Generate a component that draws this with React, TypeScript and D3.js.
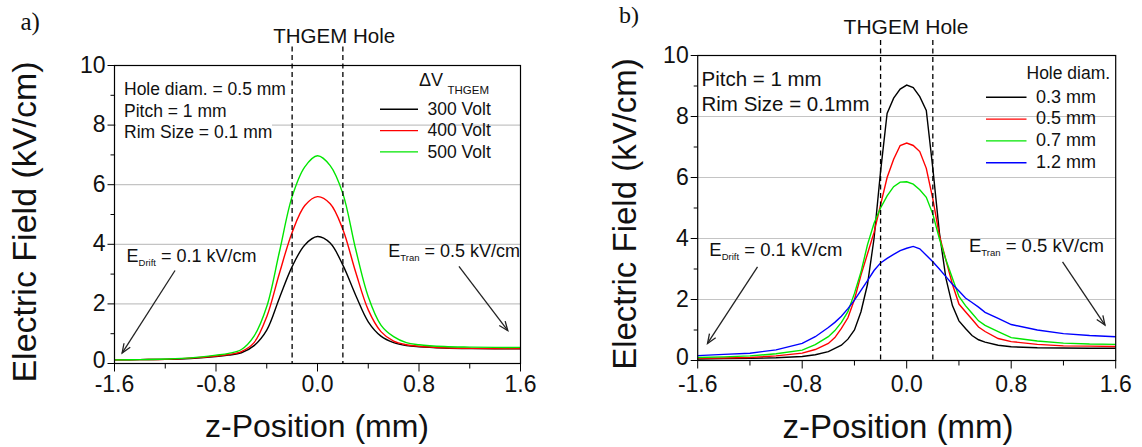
import React from 'react';
import * as d3 from 'd3';

// ---------- data ----------
const zLeft = [-1.6, -1.4, -1.2, -1.0, -0.8, -0.7, -0.6, -0.5, -0.4, -0.3, -0.2, -0.1, 0, 0.1, 0.2, 0.3, 0.4, 0.5, 0.6, 0.7, 0.8, 1.0, 1.2, 1.4, 1.6];
const v300 = [0.12, 0.13, 0.14, 0.17, 0.23, 0.28, 0.36, 0.6, 1.12, 2.2, 3.25, 3.98, 4.26, 4.04, 3.3, 2.3, 1.4, 0.92, 0.7, 0.6, 0.56, 0.52, 0.5, 0.49, 0.49];
const v400 = [0.12, 0.13, 0.14, 0.18, 0.25, 0.3, 0.4, 0.7, 1.57, 3.03, 4.4, 5.3, 5.6, 5.36, 4.5, 3.08, 1.8, 1.07, 0.75, 0.63, 0.58, 0.53, 0.51, 0.5, 0.5];
const v500 = [0.12, 0.13, 0.15, 0.19, 0.28, 0.34, 0.47, 0.92, 1.91, 3.75, 5.6, 6.6, 6.97, 6.64, 5.7, 3.85, 2.24, 1.29, 0.9, 0.7, 0.63, 0.57, 0.55, 0.54, 0.54];

const zRight = [-1.6, -1.4, -1.2, -1.0, -0.8, -0.7, -0.6, -0.55, -0.5, -0.45, -0.4, -0.35, -0.3, -0.25, -0.2, -0.15, -0.1, -0.05, 0, 0.05, 0.1, 0.15, 0.2, 0.25, 0.3, 0.35, 0.4, 0.45, 0.5, 0.55, 0.6, 0.7, 0.8, 1.0, 1.2, 1.4, 1.6];
const d03 = [0.05, 0.06, 0.07, 0.09, 0.13, 0.19, 0.29, 0.4, 0.5, 0.7, 1.0, 1.6, 2.5, 4.0, 6.2, 8.1, 8.6, 8.9, 9.03, 8.95, 8.65, 8.2, 6.3, 4.2, 2.7, 1.8, 1.3, 1.05, 0.82, 0.68, 0.6, 0.5, 0.45, 0.42, 0.41, 0.4, 0.4];
const d05 = [0.07, 0.08, 0.1, 0.15, 0.24, 0.36, 0.56, 0.75, 1.05, 1.4, 2.0, 2.8, 3.5, 4.2, 5.1, 6.0, 6.6, 7.05, 7.13, 7.05, 6.85, 6.3, 5.3, 4.1, 3.3, 2.5, 1.85, 1.6, 1.35, 1.1, 0.95, 0.72, 0.62, 0.53, 0.48, 0.47, 0.46];
const d07 = [0.1, 0.12, 0.15, 0.22, 0.34, 0.52, 0.78, 0.98, 1.25, 1.6, 2.2, 2.9, 3.8, 4.5, 5.0, 5.4, 5.7, 5.85, 5.86, 5.78, 5.6, 5.35, 4.8, 4.0, 3.3, 2.7, 2.1, 1.8, 1.55, 1.3, 1.15, 0.95, 0.75, 0.64, 0.57, 0.54, 0.53];
const d12 = [0.16, 0.2, 0.24, 0.35, 0.56, 0.78, 1.08, 1.25, 1.45, 1.7, 1.98, 2.3, 2.62, 2.95, 3.2, 3.35, 3.48, 3.6, 3.68, 3.74, 3.66, 3.45, 3.24, 3.0, 2.75, 2.5, 2.28, 2.05, 1.9, 1.75, 1.58, 1.38, 1.18, 1.0, 0.88, 0.82, 0.78];

const leftLabels = ['300 Volt', '400 Volt', '500 Volt'];
const leftColors = ['#000000', '#ff0000', '#00e600'];
const rightLabels = ['0.3 mm', '0.5 mm', '0.7 mm', '1.2 mm'];
const rightColors = ['#000000', '#ff0000', '#00e600', '#0000ff'];

const xTicks = [-1.6, -0.8, 0, 0.8, 1.6];
const xMinor = [-1.2, -0.4, 0.4, 1.2];
const yTicks = [0, 2, 4, 6, 8, 10];
const yMinor = [1, 3, 5, 7, 9];
const gridVals = [2, 4, 6, 8];
const holeEdges = [-0.2, 0.2];

const FONT = 'Liberation Sans, Arial, Helvetica, sans-serif';

type Scale = d3.ScaleLinear<number, number>;

function Arrow({ x, y, a }: { x: Scale; y: Scale; a: number[] }) {
  const x1 = x(a[0]), y1 = y(a[1]), x2 = x(a[2]), y2 = y(a[3]);
  const ang = Math.atan2(y2 - y1, x2 - x1);
  const L = 10, w = 0.38;
  const p1 = [x2 - L * Math.cos(ang - w), y2 - L * Math.sin(ang - w)];
  const p2 = [x2 - L * Math.cos(ang + w), y2 - L * Math.sin(ang + w)];
  return (
    <g stroke="#222" strokeWidth={1.3} fill="none">
      <line x1={x1} y1={y1} x2={x2} y2={y2} />
      <polyline points={`${p1[0]},${p1[1]} ${x2},${y2} ${p2[0]},${p2[1]}`} />
    </g>
  );
}

function Axes({ x, y, dashTop, tickSize }: { x: Scale; y: Scale; dashTop: number; tickSize: number }) {
  const [l, r] = x.range();
  const [b, t] = y.range();
  const fmt = (v: number) => v.toFixed(1);
  return (
    <g>
      <g stroke="#000" strokeWidth={1}>
        {yTicks.map((v) => <line key={'ym' + v} x1={l - 7} x2={l} y1={y(v)} y2={y(v)} />)}
        {yMinor.map((v) => <line key={'yn' + v} x1={l - 4} x2={l} y1={y(v)} y2={y(v)} />)}
        {xTicks.map((v) => <line key={'xm' + v} x1={x(v)} x2={x(v)} y1={b} y2={b + 8} />)}
        {xMinor.map((v) => <line key={'xn' + v} x1={x(v)} x2={x(v)} y1={b} y2={b + 5} />)}
      </g>
      <g fontFamily={FONT} fontSize={tickSize} fill="#111">
        {yTicks.map((v) => (
          <text key={'yl' + v} x={l - 9} y={y(v) + (v === 0 ? 4 : 7)} textAnchor="end">{v}</text>
        ))}
        {xTicks.map((v) => (
          <text key={'xl' + v} x={x(v)} y={392} textAnchor="middle">{fmt(v)}</text>
        ))}
      </g>
      {holeEdges.map((v) => (
        <line key={'h' + v} x1={x(v)} x2={x(v)} y1={dashTop} y2={b} stroke="#000" strokeWidth={1.3} strokeDasharray="5,3.5" />
      ))}
      <rect x={l} y={t} width={r - l} height={b - t} fill="none" stroke="#000" strokeWidth={1.2} />
    </g>
  );
}

export default function App() {
  const xL = d3.scaleLinear().domain([-1.6, 1.6]).range([114.5, 520.5]);
  const yL = d3.scaleLinear().domain([0, 10]).range([363.5, 65.5]);
  const xR = d3.scaleLinear().domain([-1.6, 1.6]).range([697.7, 1115.7]);
  const yR = d3.scaleLinear().domain([0, 10]).range([360.5, 55.5]);

  const lineL = d3.line<number>().x((_, i) => xL(zLeft[i])).y((d) => yL(d)).curve(d3.curveCatmullRom.alpha(0.5));
  const lineR = d3.line<number>().x((_, i) => xR(zRight[i])).y((d) => yR(d)).curve(d3.curveLinear);

  const leftSeries = [v300, v400, v500];
  const rightSeries = [d03, d05, d07, d12];

  return (
    <svg width={1142} height={447} style={{ position: 'absolute', left: 0, top: 0, background: '#fff' }}>
      <rect x={0} y={0} width={1142} height={447} fill="#fff" />

      {/* ================= panel a ================= */}
      <g>
        {gridVals.map((v) => (
          <line key={v} x1={xL(-1.6)} x2={xL(1.6)} y1={yL(v)} y2={yL(v)} stroke="#c4c4c4" strokeWidth={1.2} />
        ))}
        <rect x={116} y={72} width={156} height={72} fill="#fff" />
        <g fontFamily={FONT} fontSize={17.5} fill="#111">
          <text x={124} y={95}>Hole diam. = 0.5 mm</text>
          <text x={124} y={116.5}>Pitch = 1 mm</text>
          <text x={124} y={138}>Rim Size = 0.1 mm</text>
        </g>
        <g fontFamily={FONT} fill="#111">
          <text x={419} y={86} fontSize={18}>ΔV</text>
          <text x={447.5} y={93.5} fontSize={11.5}>THGEM</text>
          {leftLabels.map((s, i) => (
            <g key={s}>
              <line x1={380} x2={418} y1={109.3 + i * 21.3} y2={109.3 + i * 21.3} stroke={leftColors[i]} strokeWidth={1.4} />
              <text x={427.5} y={114.5 + i * 21.5} fontSize={17.5}>{s}</text>
            </g>
          ))}
        </g>
        {leftSeries.map((s, i) => (
          <path key={i} d={lineL(s) || ''} fill="none" stroke={leftColors[i]} strokeWidth={1.4} />
        ))}
        <Axes x={xL} y={yL} dashTop={46.5} tickSize={23} />
        <g fontFamily={FONT} fill="#111">
          <text x={126.5} y={261.5} fontSize={18}>E<tspan fontSize={9.5} dy={4}>Drift</tspan><tspan dy={-4}> = 0.1 kV/cm</tspan></text>
          <text x={388.3} y={256.5} fontSize={18}>E<tspan fontSize={9.5} dy={4}>Tran</tspan><tspan dy={-4}> = 0.5 kV/cm</tspan></text>
        </g>
        <Arrow x={xL} y={yL} a={[-1.123, 3.12, -1.54, 0.35]} />
        <Arrow x={xL} y={yL} a={[1.115, 3.26, 1.5, 1.1]} />
        <g fontFamily={FONT} fill="#111">
          <text x={273.3} y={42.5} fontSize={20.5}>THGEM Hole</text>
          <text x={317} y={437} fontSize={32} textAnchor="middle">z-Position (mm)</text>
          <text transform="translate(36,222) rotate(-90)" fontSize={34} textAnchor="middle">Electric Field (kV/cm)</text>
        </g>
        <text x={20.5} y={30} fontFamily="Liberation Serif, Times New Roman, serif" fontSize={25} fill="#111">a)</text>
      </g>

      {/* ================= panel b ================= */}
      <g>
        {gridVals.map((v) => (
          <line key={v} x1={xR(-1.6)} x2={xR(1.6)} y1={yR(v)} y2={yR(v)} stroke="#c4c4c4" strokeWidth={1.2} />
        ))}
        <g fontFamily={FONT} fontSize={20.5} fill="#111">
          <text x={701.5} y={86}>Pitch = 1 mm</text>
          <text x={701.5} y={111}>Rim Size = 0.1mm</text>
        </g>
        <g fontFamily={FONT} fill="#111">
          <text x={1026.5} y={78.5} fontSize={17.5}>Hole diam.</text>
          {rightLabels.map((s, i) => (
            <g key={s}>
              <line x1={986} x2={1026.5} y1={97.3 + i * 21.8} y2={97.3 + i * 21.8} stroke={rightColors[i]} strokeWidth={1.4} />
              <text x={1036} y={102.7 + i * 21.7} fontSize={18}>{s}</text>
            </g>
          ))}
        </g>
        {rightSeries.map((s, i) => (
          <path key={i} d={lineR(s) || ''} fill="none" stroke={rightColors[i]} strokeWidth={1.4} />
        ))}
        <Axes x={xR} y={yR} dashTop={40} tickSize={23} />
        <g fontFamily={FONT} fill="#111">
          <text x={709.3} y={255.5} fontSize={18.5}>E<tspan fontSize={9.5} dy={4}>Drift</tspan><tspan dy={-4}> = 0.1 kV/cm</tspan></text>
          <text x={969} y={252} fontSize={18.5}>E<tspan fontSize={9.5} dy={4}>Tran</tspan><tspan dy={-4}> = 0.5 kV/cm</tspan></text>
        </g>
        <Arrow x={xR} y={yR} a={[-1.142, 3.07, -1.525, 0.56]} />
        <Arrow x={xR} y={yR} a={[1.193, 3.23, 1.518, 1.16]} />
        <g fontFamily={FONT} fill="#111">
          <text x={843.6} y={33.5} fontSize={21}>THGEM Hole</text>
          <text x={898} y={437.5} fontSize={33} textAnchor="middle">z-Position (mm)</text>
          <text transform="translate(636,214) rotate(-90)" fontSize={33} textAnchor="middle">Electric Field (kV/cm)</text>
        </g>
        <text x={619} y={23} fontFamily="Liberation Serif, Times New Roman, serif" fontSize={24} fill="#111">b)</text>
      </g>
    </svg>
  );
}
